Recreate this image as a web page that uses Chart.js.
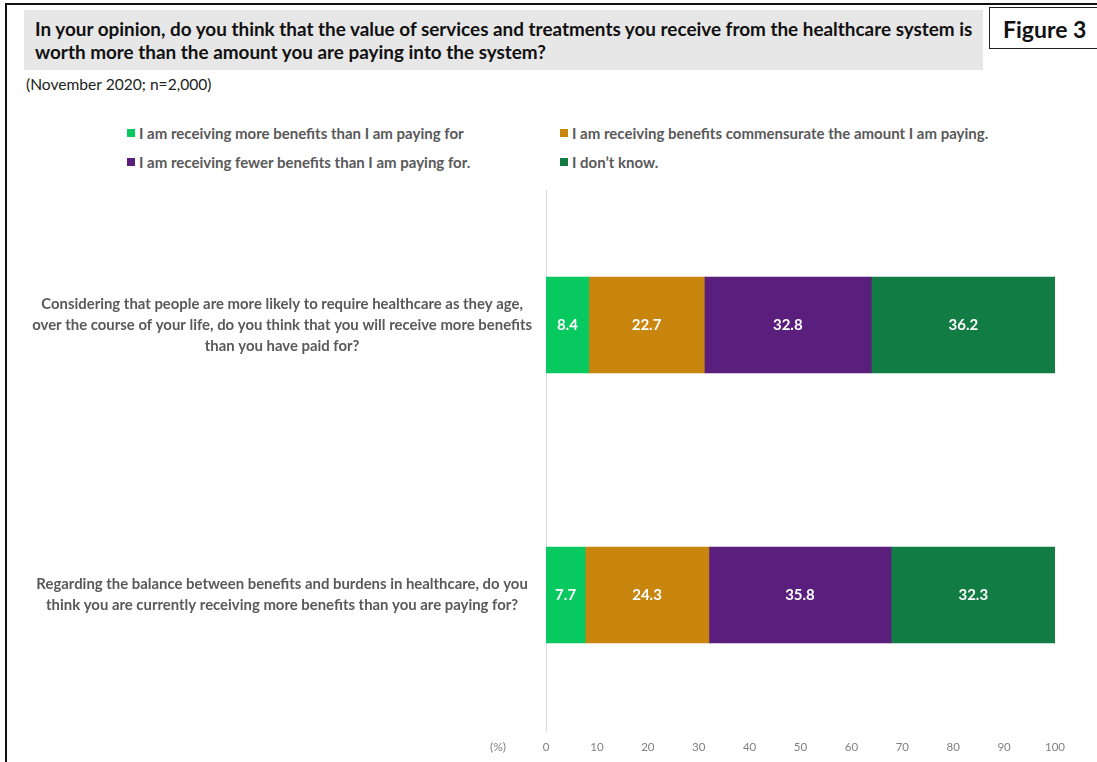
<!DOCTYPE html>
<html>
<head>
<meta charset="utf-8">
<script src="https://cdn.jsdelivr.net/npm/chart.js@4.4.0/dist/chart.umd.min.js"></script>
<style>
  body { margin: 0; width: 1097px; height: 762px; overflow: hidden; background: #fff; font-family: Lato, "Open Sans", sans-serif; position: relative; }
  #frame { position: absolute; left: 5px; top: 3px; width: 1200px; height: 900px; border: 2px solid #111; }
  #title { position: absolute; left: 24px; top: 10px; width: 959px; height: 60px; padding-left: 11px; box-sizing: border-box; background: #e7e7e7; font-weight: bold; font-size: 18.9px; line-height: 23px; padding-top: 7px; color: #111; white-space: nowrap; }
  #fig { position: absolute; left: 989px; top: 7px; width: 130px; height: 42px; border: 1.5px solid #222; background: #fff; font-weight: bold; font-size: 23px; line-height: 42px; padding-left: 13px; box-sizing: border-box; color: #111; }
  #sub { position: absolute; left: 26px; top: 75px; font-size: 15.6px; color: #222; }
  #legend { position: absolute; left: 127px; top: 118px; display: grid; grid-template-columns: 433px 433px; grid-auto-rows: 29px; font-size: 15px; font-weight: bold; color: #595959; }
  #legend div { display: flex; align-items: center; }
  #legend span.box { width: 8px; height: 8px; margin-right: 4px; display: inline-block; }
  #wrap { position: absolute; left: 0; top: 180px; width: 1097px; height: 582px; }
</style>
</head>
<body>
<div id="frame"></div>
<div id="title">In your opinion, do you think that the value of services and treatments you receive from the healthcare system is<br>worth more than the amount you are paying into the system?</div>
<div id="fig">Figure 3</div>
<div id="sub">(November 2020; n=2,000)</div>
<div id="legend"></div>
<div id="wrap"><canvas id="mychart"></canvas></div>
<script>
// questions, one array of lines per bar
const categories = [
  ['Considering that people are more likely to require healthcare as they age,',
   'over the course of your life, do you think that you will receive more benefits',
   'than you have paid for?'],
  ['Regarding the balance between benefits and burdens in healthcare, do you',
   'think you are currently receiving more benefits than you are paying for?']
]
const seriesNames = [
  'I am receiving more benefits than I am paying for',
  'I am receiving benefits commensurate the amount I am paying.',
  'I am receiving fewer benefits than I am paying for.',
  'I don\u2019t know.'
]
const moreBenefits = [8.4, 7.7]
const commensurate = [22.7, 24.3]
const fewerBenefits = [32.8, 35.8]
const dontKnow = [36.2, 32.3]
const tickValues = [0, 10, 20, 30, 40, 50, 60, 70, 80, 90, 100]

const colors = ['#08c95f', '#c8860f', '#5a1e7c', '#117d44']
const values = [moreBenefits, commensurate, fewerBenefits, dontKnow]
const fontFamily = 'Lato, "Open Sans", sans-serif'

// white value labels in the middle of each segment, plus the (%) unit
const segmentLabels = {
  id: 'segmentLabels',
  afterDatasetsDraw(chart) {
    const ctx = chart.ctx
    ctx.save()
    ctx.font = 'bold 15px ' + fontFamily
    ctx.fillStyle = '#fff'
    ctx.textAlign = 'center'
    ctx.textBaseline = 'middle'
    chart.data.datasets.forEach(function (ds, i) {
      chart.getDatasetMeta(i).data.forEach(function (bar, j) {
        const p = bar.getProps(['x', 'y', 'base'], true)
        ctx.fillText(ds.data[j].toFixed(1), (p.x + p.base) / 2, p.y)
      })
    })
    // unit sits on the same line as the x tick labels
    const xs = chart.scales.x
    ctx.font = '12px ' + fontFamily
    ctx.fillStyle = '#808080'
    ctx.fillText('(%)', xs.getPixelForValue(0) - 48, xs.top + 10 + 7)
    ctx.restore()
  }
}

const chart = new Chart(document.getElementById('mychart'), {
  type: 'bar',
  data: {
    labels: categories,
    datasets: seriesNames.map(function (name, i) {
      return {
        label: name,
        data: values[i],
        backgroundColor: colors[i],
        borderWidth: 0,
        barThickness: 96
      }
    })
  },
  options: {
    indexAxis: 'y',
    responsive: true,
    maintainAspectRatio: false,
    animation: false,
    layout: { padding: { left: 26, right: 42, top: 10, bottom: 8 } },
    plugins: {
      legend: { display: false },
      tooltip: { enabled: false }
    },
    scales: {
      x: {
        stacked: true,
        min: 0,
        max: 100,
        afterBuildTicks: function (scale) {
          scale.ticks = tickValues.map(function (v) { return { value: v } })
        },
        afterFit: function (scale) {
          scale.height = 24
          scale.paddingLeft = 0
          scale.paddingRight = 0
        },
        grid: { display: false, drawTicks: false },
        border: { display: false },
        ticks: { padding: 10, color: '#808080', font: { family: fontFamily, size: 11.5 } }
      },
      y: {
        stacked: true,
        afterFit: function (scale) {
          scale.width = 520
          scale.paddingTop = 0
          scale.paddingBottom = 0
        },
        grid: { display: false, drawTicks: false },
        border: { display: true, color: '#d9d9d9', width: 1 },
        ticks: {
          crossAlign: 'center',
          padding: 14,
          color: '#595959',
          font: { family: fontFamily, size: 14.9, weight: 'bold', lineHeight: 1.41 }
        }
      }
    }
  },
  plugins: [segmentLabels]
})

// legend as a 2x2 grid, taken from the chart datasets
const legend = document.getElementById('legend')
chart.data.datasets.forEach(function (ds) {
  const item = document.createElement('div')
  const box = document.createElement('span')
  box.className = 'box'
  box.style.background = ds.backgroundColor
  item.appendChild(box)
  item.appendChild(document.createTextNode(ds.label))
  legend.appendChild(item)
})
</script>
</body>
</html>
